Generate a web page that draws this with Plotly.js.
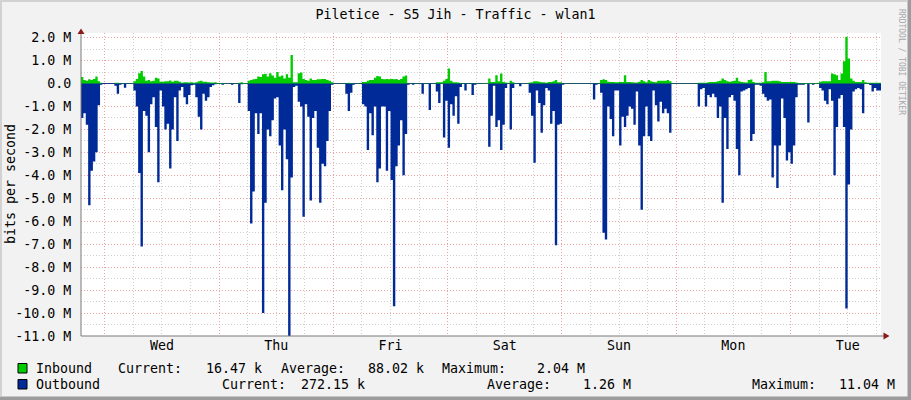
<!DOCTYPE html>
<html><head><meta charset="utf-8">
<script src="https://cdn.plot.ly/plotly-3.0.1.min.js"></script>
<style>html,body{margin:0;padding:0;background:#F2F2F2;}#chart{width:911px;height:400px;}</style>
</head><body><div id="chart"></div>
<script>
// ---- data (Mbit/s, 30-minute samples starting Tue 19:00) ----
const chartTitle = 'Piletice - S5 Jih - Traffic - wlan1';
const dayLabels = ['Wed','Thu','Fri','Sat','Sun','Mon','Tue'];
const dayNoonHours = [17,41,65,89,113,137,161];
const midnightHours = [5,29,53,77,101,125,149];
const yTickVals = [2,1,0,-1,-2,-3,-4,-5,-6,-7,-8,-9,-10,-11];
const yTickText = ['2.0 M','1.0 M','0.0','-1.0 M','-2.0 M','-3.0 M','-4.0 M','-5.0 M','-6.0 M','-7.0 M','-8.0 M','-9.0 M','-10.0 M','-11.0 M'];
const sampleHours = 0.5;

const inbound = [
0.28,0.15,0.12,0.18,0.15,0.2,0.3,0.1,0.03,0,
0,0,0,0,0.03,0.03,0.01,0.01,0.01,0.01,
0.01,0.01,0.1,0.2,0.45,0.55,0.3,0.12,0.15,0.1,
0.12,0.25,0.22,0.08,0.08,0.1,0.1,0.13,0.08,0.12,
0.12,0.08,0.03,0.05,0.05,0.04,0.05,0.03,0.05,0.1,
0.12,0.08,0.08,0.05,0.04,0.04,0.05,0.02,0.02,0.02,
0.01,0.01,0.01,0.01,0.01,0.01,0.03,0.05,0.02,0.02,
0.12,0.15,0.18,0.2,0.3,0.28,0.4,0.42,0.3,0.45,
0.35,0.25,0.5,0.3,0.35,0.22,0.4,0.25,1.24,0.05,
0.05,0.45,0.48,0.2,0.15,0.12,0.22,0.15,0.15,0.18,
0.18,0.2,0.2,0.15,0.12,0.05,0.01,0.01,0.01,0.01,
0.01,0.01,0.03,0.02,0.01,0.01,0.01,0.01,0.07,0.07,
0.12,0.15,0.15,0.25,0.33,0.3,0.2,0.18,0.2,0.18,
0.2,0.18,0.2,0.15,0.2,0.3,0.35,0.01,0.01,0.01,
0.01,0.01,0.01,0.01,0.01,0.01,0.01,0.01,0.01,0.05,
0.05,0.05,0.12,0.2,0.65,0.12,0.05,0.05,0.04,0.02,
0.01,0.01,0.01,0.01,0.01,0.01,0.01,0.01,0.01,0.02,
0.02,0.22,0.07,0.07,0.36,0.1,0.44,0.07,0.04,0.01,
0.12,0.05,0.01,0.01,0.01,0.01,0.01,0.01,0.04,0.05,
0.1,0.1,0.08,0.05,0.05,0.03,0.06,0.07,0.1,0.15,
0.05,0.05,0.01,0.01,0.01,0.01,0.01,0.01,0.01,0.01,
0.01,0.01,0.01,0.01,0.01,0.01,0.01,0.01,0.15,0.18,
0.15,0.08,0.07,0.06,0.05,0.05,0.07,0.07,0.36,0.07,
0.07,0.05,0.04,0.04,0.08,0.15,0.1,0.05,0.15,0.1,
0.07,0.05,0.12,0.12,0.12,0.12,0.15,0.1,0.01,0.01,
0.01,0.01,0.01,0.01,0.01,0.01,0.01,0.01,0.01,0.03,
0.03,0.03,0.03,0.05,0.07,0.07,0.07,0.1,0.12,0.22,
0.15,0.1,0.08,0.1,0.12,0.25,0.1,0.06,0.05,0.04,
0.15,0.17,0.06,0.03,0.03,0.03,0.05,0.5,0.1,0.1,
0.12,0.12,0.12,0.1,0.07,0.07,0.07,0.06,0.06,0.06,
0.04,0.02,0.02,0.02,0.02,0.02,0.02,0.02,0.02,0.02,
0.08,0.1,0.1,0.1,0.1,0.44,0.4,0.36,0.15,0.44,
0.97,2.04,1.09,0.22,0.12,0.07,0.07,0.07,0.15,0.05,
0.03,0.03,0.03,0.03,0.03,0.03
];

const outbound = [
-1.5,-1.3,-1.8,-5.3,-3.8,-3.4,-3.0,-0.95,-0.05,0,
0,0,0,0,-0.1,-0.45,-0.05,0,-0.18,0,
0,0,-0.3,-1.0,-3.9,-7.1,-1.2,-1.4,-3.0,-0.9,
-0.6,-1.9,-4.3,-0.3,-1.0,-2.0,-1.75,-3.7,-2.0,-0.6,
-2.5,-0.3,-0.15,-0.6,-0.9,-0.5,-0.08,-0.05,-0.6,-1.45,
-2.0,-0.45,-0.75,-0.6,-0.15,-0.08,-0.03,0,0,-0.05,
0,0,0,-0.05,0,0,-0.85,-0.03,0,-0.02,
-1.2,-6.1,-4.7,-1.3,-2.2,-1.3,-10.0,-5.2,-2.0,-2.3,
-1.6,-0.65,-0.6,-2.7,-4.65,-2.0,-3.3,-11.04,-4.1,-0.15,
-0.1,-0.8,-1.0,-5.8,-0.9,-1.45,-5.1,-1.5,-1.2,-2.8,
-5.2,-3.5,-3.6,-2.5,-1.2,-0.05,0,0,0,0,
0,-0.45,-1.2,-0.4,-0.05,0,0,0,-0.9,-1.0,
-2.9,-1.3,-2.25,-1.0,-4.3,-3.7,-1.0,-1.0,-3.8,-1.2,
-4.2,-9.7,-3.6,-2.7,-1.6,-4.0,-2.2,-0.05,0,-0.05,
0,0,0,-0.45,0,0,-1.15,0,0,-0.35,
-0.85,0,-2.35,-0.75,-2.8,-0.9,-1.4,-0.55,-1.75,-0.15,
0,-0.3,0,0,-0.5,-0.05,0,0,0,0,
0,-2.75,-1.4,-0.1,-1.9,-1.6,-2.9,-1.8,-0.2,0,
-2.0,-0.2,0,0,-0.12,0,0,0,-0.4,-1.4,
-3.45,-0.3,-0.85,-2.15,-0.95,-0.2,-0.3,-1.75,-1.2,-7.05,
-1.8,-1.75,-0.05,0,0,0,0,0,0,0,
0,0,0,0,0,-0.7,-0.05,0,-0.4,-6.5,
-6.8,-1.0,-1.55,-2.3,-0.3,-0.3,-2.7,-1.45,-1.9,-1.4,
-1.0,-1.1,-1.8,-0.35,-2.7,-5.5,-2.3,-1.0,-2.3,-2.5,
-0.3,-0.95,-1.65,-0.8,-1.3,-1.1,-1.3,-2.15,0,0,
0,0,0,0,0,0,0,0,0,-1.0,
-0.25,-0.2,-1.0,-0.5,-0.6,-0.45,-0.6,-1.5,-1.0,-5.2,
-1.5,-2.85,-0.6,-0.5,-0.75,-2.85,-4.0,-0.35,-0.3,-0.25,
-0.2,-2.5,-2.2,-0.05,-0.05,-0.1,-0.45,-0.6,-0.75,-0.7,
-4.1,-2.7,-4.55,-2.7,-0.65,-1.5,-3.35,-3.0,-3.5,-2.7,
-0.6,-0.05,-0.05,-0.05,0,-1.7,0,-0.05,0,0,
-0.2,-0.3,-0.75,-0.9,-0.25,-0.75,-4.0,-1.9,-0.65,-0.5,
-1.9,-9.8,-4.4,-2.0,-0.35,-0.25,-0.2,-0.25,-1.3,0,
0,-0.07,-0.35,-0.2,-0.3,-0.3
];

const legendRow1 = [['Inbound',34],['Current:',116],['16.47 k',204],['Average:',279],['88.02 k',366],['Maximum:',440],['2.04 M',535]];
const legendRow2 = [['Outbound',34],['Current:',220],['272.15 k',299],['Average:',485],['1.26 M',581],['Maximum:',750],['11.04 M',837]];

// ---- layout helpers ----
const L = 81, T = 33, W = 800, H = 303;
const px = x => (x - L) / W;
const py = y => (T + H - y) / H;
const FONT = 'DejaVu Sans Mono, monospace';
const GREEN = '#00CC00', BLUE = '#002A97';

function stepXY(vals){
  const x = vals.map((_, i) => i * sampleHours);
  x.push(vals.length * sampleHours);
  const y = vals.slice(); y.push(vals[vals.length - 1]);
  return {x, y};
}
const inb = stepXY(inbound), outb = stepXY(outbound);

const traces = [
  {type:'scatter', mode:'lines', x:outb.x, y:outb.y, line:{shape:'hv', width:0, color:BLUE}, fill:'tozeroy', fillcolor:BLUE, hoverinfo:'skip', showlegend:false},
  {type:'scatter', mode:'lines', x:inb.x, y:inb.y, line:{shape:'hv', width:0, color:GREEN}, fill:'tozeroy', fillcolor:GREEN, hoverinfo:'skip', showlegend:false},
  {type:'scatter', mode:'lines', x:[0,168], y:[null,null], xaxis:'x2', hoverinfo:'skip', showlegend:false}
];

const annotations = [];
function addLegendRow(row, y){
  row.forEach(([t, x]) => annotations.push({text:t, xref:'paper', yref:'paper', x:px(x), y:py(y), xanchor:'left', yanchor:'middle', showarrow:false, font:{family:FONT, size:13.3, color:'#000'}}));
}
addLegendRow(legendRow1, 368);
addLegendRow(legendRow2, 384);
annotations.push({text:'bits per second', textangle:-90, xref:'paper', yref:'paper', x:px(10), y:py(184), xanchor:'center', yanchor:'middle', showarrow:false, font:{family:FONT, size:13.3, color:'#000'}});
annotations.push({text:'RRDTOOL / TOBI OETIKER', textangle:90, xref:'paper', yref:'paper', x:px(902), y:py(62), xanchor:'center', yanchor:'middle', showarrow:false, font:{family:FONT, size:8, color:'#A8A8A8'}});

const shapes = [
  // frame
  {type:'rect', xref:'paper', yref:'paper', x0:px(907.5), x1:px(911), y0:py(400), y1:py(0), fillcolor:'#9C9C9C', line:{width:0}},
  {type:'rect', xref:'paper', yref:'paper', x0:px(0), x1:px(911), y0:py(400), y1:py(396.5), fillcolor:'#9C9C9C', line:{width:0}},
  {type:'rect', xref:'paper', yref:'paper', x0:px(0), x1:px(907.5), y0:py(2), y1:py(0), fillcolor:'#D2D2D2', line:{width:0}},
  {type:'rect', xref:'paper', yref:'paper', x0:px(0), x1:px(2), y0:py(396.5), y1:py(0), fillcolor:'#D2D2D2', line:{width:0}},
  // axes
  {type:'line', xref:'paper', yref:'paper', x0:px(81), x1:px(81), y0:py(336), y1:py(31), line:{color:'#7A7A7A', width:1}, layer:'above'},
  {type:'line', xref:'paper', yref:'paper', x0:px(81), x1:px(886), y0:py(336), y1:py(336), line:{color:'#7A7A7A', width:1}, layer:'above'},
  {type:'path', xref:'paper', yref:'paper', path:`M ${px(77.5)} ${py(34)} L ${px(84.5)} ${py(34)} L ${px(81)} ${py(28.5)} Z`, fillcolor:'#8B1A1A', line:{width:0}, layer:'above'},
  {type:'path', xref:'paper', yref:'paper', path:`M ${px(883.5)} ${py(332.5)} L ${px(883.5)} ${py(339.5)} L ${px(889.5)} ${py(336)} Z`, fillcolor:'#8B1A1A', line:{width:0}, layer:'above'},
  // legend boxes
  {type:'rect', xref:'paper', yref:'paper', x0:px(18), x1:px(27), y0:py(373), y1:py(363.5), fillcolor:GREEN, line:{color:'#000', width:1}},
  {type:'rect', xref:'paper', yref:'paper', x0:px(18), x1:px(27), y0:py(389), y1:py(379.5), fillcolor:BLUE, line:{color:'#000', width:1}}
];

const GRID_GRAY = '#CFCFCF', GRID_RED = '#EBA3A3', DASH = '1px,2px';

const layout = {
  width:911, height:400,
  margin:{l:L, r:911-L-W, t:T, b:400-T-H, pad:0},
  paper_bgcolor:'#F2F2F2', plot_bgcolor:'#FFFFFF',
  font:{family:FONT, size:13.3, color:'#000'},
  title:{text:chartTitle, x:0.5, xref:'container', y:1-14/400, yref:'container', xanchor:'center', yanchor:'middle', font:{family:FONT, size:13.3, color:'#000'}},
  showlegend:false,
  xaxis:{range:[0,168], tickmode:'array', tickvals:midnightHours, showticklabels:false, ticks:'',
         showgrid:true, gridcolor:GRID_RED, griddash:DASH, gridwidth:1, zeroline:false, showline:false,
         minor:{tickmode:'linear', tick0:5, dtick:6, showgrid:true, gridcolor:GRID_GRAY, griddash:DASH, gridwidth:1, ticks:''}, fixedrange:true},
  xaxis2:{range:[0,168], overlaying:'x', anchor:'y', side:'bottom', tickmode:'array', tickvals:dayNoonHours, ticktext:dayLabels,
          showgrid:false, zeroline:false, showline:false, ticks:'',
          tickfont:{family:FONT, size:13.3, color:'#000'}},
  yaxis:{range:[-11.0,2.2], tickmode:'array', tickvals:yTickVals, ticktext:yTickText, ticks:'outside', ticklen:6, tickcolor:'rgba(0,0,0,0)',
         tickfont:{family:FONT, size:13.3, color:'#000'},
         showgrid:true, gridcolor:GRID_RED, griddash:DASH, gridwidth:1,
         zeroline:true, zerolinecolor:'#23318A', zerolinewidth:1, showline:false,
         minor:{tickmode:'linear', tick0:0, dtick:0.5, showgrid:true, gridcolor:GRID_GRAY, griddash:DASH, gridwidth:1, ticks:''}, fixedrange:true},
  annotations, shapes
};

Plotly.newPlot('chart', traces, layout, {staticPlot:true, displayModeBar:false});
</script>
</body></html>
